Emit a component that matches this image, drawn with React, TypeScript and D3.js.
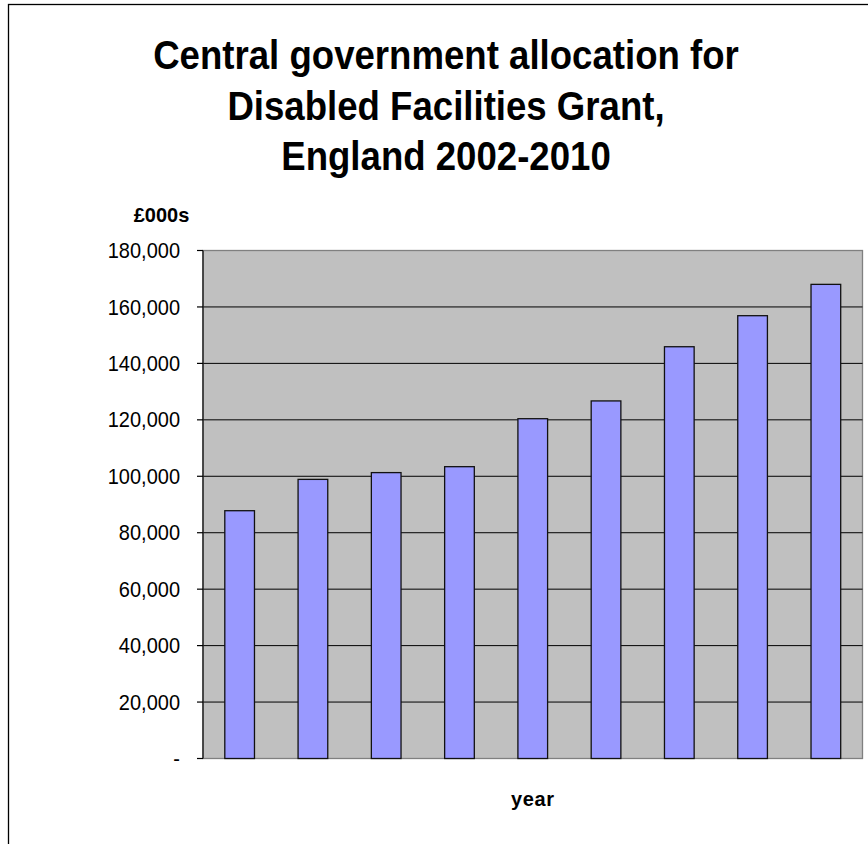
import React from 'react';
import * as d3 from 'd3';

const titleLines = ['Central government allocation for', 'Disabled Facilities Grant,', 'England 2002-2010'];
const years = ['2002', '2003', '2004', '2005', '2006', '2007', '2008', '2009', '2010'];
const allocations = [87800, 98900, 101300, 103400, 120400, 126700, 145900, 156900, 168000];
const yTicks = [0, 20000, 40000, 60000, 80000, 100000, 120000, 140000, 160000, 180000];
const yLabel = '£000s';
const xLabel = 'year';

const W = 868;
const H = 844;
const plot = { left: 203, right: 862.5, top: 250.5, bottom: 758.5 };
const FONT = '"Liberation Sans", Arial, Helvetica, sans-serif';

function TallText(props: { x: number; y: number; sy: number; anchor: string; size: number; bold?: boolean; dy?: string; children: React.ReactNode }) {
  const { x, y, sy, anchor, size, bold, dy, children } = props;
  return (
    <g transform={`translate(${x},${y}) scale(1,${sy})`}>
      <text x={0} y={0} dy={dy} textAnchor={anchor} fontSize={size} fontWeight={bold ? 'bold' : 'normal'} fill="#000">
        {children}
      </text>
    </g>
  );
}

export default function App() {
  const x = d3.scaleBand<string>().domain(years).range([plot.left, plot.right]).paddingInner(0.595).paddingOuter(0.2975);
  const y = d3.scaleLinear().domain([0, 180000]).range([plot.bottom, plot.top]);
  const fmt = d3.format(',');
  const tickFmt = (v: number) => (v === 0 ? '-' : fmt(v));

  return (
    <svg width={W} height={H} style={{ position: 'absolute', left: 0, top: 0, background: '#fff' }} fontFamily={FONT}>
      <rect x={8.5} y={4.5} width={W + 20} height={H + 20} fill="#fff" stroke="#000" strokeWidth={1.3} />

      {titleLines.map((t, i) => (
        <TallText key={i} x={446} y={69 + i * 50.5} sy={1.1} anchor="middle" size={36.6} bold>
          {t}
        </TallText>
      ))}

      <TallText x={161.5} y={221.5} sy={1.05} anchor="middle" size={20} bold>
        {yLabel}
      </TallText>

      <rect x={plot.left} y={plot.top} width={plot.right - plot.left} height={plot.bottom - plot.top} fill="#C0C0C0" stroke="#808080" strokeWidth={1.3} />

      {yTicks.filter((t) => t > 0 && t < 180000).map((t) => (
        <line key={t} x1={plot.left} x2={plot.right} y1={y(t)} y2={y(t)} stroke="#000" strokeWidth={1} />
      ))}

      <line x1={plot.left} x2={plot.left} y1={plot.top} y2={plot.bottom} stroke="#222" strokeWidth={1.4} />
      {yTicks.map((t) => (
        <g key={t}>
          <line x1={plot.left - 6} x2={plot.left} y1={y(t)} y2={y(t)} stroke="#000" strokeWidth={1.2} />
          <TallText x={180} y={y(t) + 7.6} sy={1.1} anchor="end" size={20}>
            {tickFmt(t)}
          </TallText>
        </g>
      ))}

      {years.map((yr, i) => (
        <rect
          key={yr}
          x={x(yr)}
          y={y(allocations[i])}
          width={x.bandwidth()}
          height={y(0) - y(allocations[i])}
          fill="#9999FF"
          stroke="#111"
          strokeWidth={1.3}
        />
      ))}

      <text x={(plot.left + plot.right) / 2} y={806} textAnchor="middle" fontSize={20} fontWeight="bold" fill="#000" letterSpacing={0.6}>
        {xLabel}
      </text>
    </svg>
  );
}
